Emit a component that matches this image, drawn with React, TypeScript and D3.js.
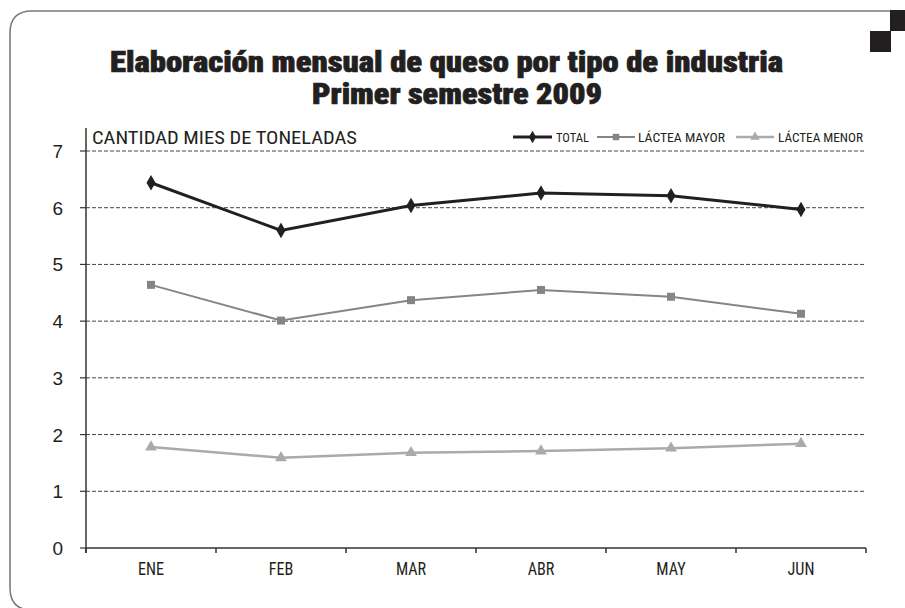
import React from "react";
import * as d3 from "d3";

const months = ["ENE", "FEB", "MAR", "ABR", "MAY", "JUN"];
const total = [6.44, 5.6, 6.04, 6.26, 6.21, 5.97];
const mayor = [4.64, 4.01, 4.37, 4.55, 4.43, 4.13];
const menor = [1.78, 1.59, 1.68, 1.71, 1.76, 1.84];
const yTicks = [0, 1, 2, 3, 4, 5, 6, 7];

const condensed = "'Liberation Sans Narrow', 'Roboto Condensed', Roboto, 'Liberation Sans', sans-serif";

const App = () => {
  const x = d3.scaleBand<string>().domain(months).range([86, 866]).paddingInner(0).paddingOuter(0);
  const y = d3.scaleLinear().domain([0, 7]).range([548, 151]);
  const cx = (m: string) => (x(m) as number) + x.bandwidth() / 2;

  const line = d3.line<number>()
    .x((d, i) => cx(months[i]))
    .y(d => y(d));

  const diamond = d3.symbol().type(d3.symbolDiamond).size(70)();
  const square = d3.symbol().type(d3.symbolSquare).size(64)();
  const triangle = d3.symbol().type(d3.symbolTriangle).size(60)();

  const series = [
    { name: "TOTAL", data: total, color: "#231f20", width: 3, marker: diamond },
    { name: "LÁCTEA MAYOR", data: mayor, color: "#858585", width: 2, marker: square },
    { name: "LÁCTEA MENOR", data: menor, color: "#aaaaaa", width: 2.5, marker: triangle },
  ];

  const legend = [
    { x0: 513, x1: 552, tx: 556, tw: 33 },
    { x0: 597, x1: 635, tx: 638, tw: 87 },
    { x0: 736, x1: 774, tx: 778, tw: 85 },
  ];

  return (
    <svg width={905} height={608} style={{ position: "fixed", top: 0, left: 0, background: "#fff" }}>
      {/* frame */}
      <path d="M890,11 L32,11 Q10,11 10,33 L10,588 Q10,610 32,610 L890,610" fill="none" stroke="#7a7a7a" strokeWidth={1.6} />
      <rect x={890} y={10} width={15} height={21} fill="#231f20" />
      <rect x={870} y={31} width={21} height={21} fill="#231f20" />

      {/* title */}
      <text x={110} y={72} fontFamily={condensed} fontWeight={900} fontSize={30}
        fill="#231f20" stroke="#231f20" strokeWidth={0.7} textLength={673} lengthAdjust="spacingAndGlyphs">
        Elaboración mensual de queso por tipo de industria
      </text>
      <text x={312} y={104} fontFamily={condensed} fontWeight={900} fontSize={30}
        fill="#231f20" stroke="#231f20" strokeWidth={0.7} textLength={290} lengthAdjust="spacingAndGlyphs">
        Primer semestre 2009
      </text>

      <text x={92} y={144} fontFamily={condensed} fontSize={18} fill="#231f20"
        textLength={265} lengthAdjust="spacingAndGlyphs">CANTIDAD MIES DE TONELADAS</text>

      {/* grid */}
      {yTicks.filter(t => t > 0).map(t => (
        <line key={t} x1={86} x2={866} y1={y(t)} y2={y(t)} stroke="#444" strokeWidth={1} strokeDasharray="4,2" />
      ))}
      {yTicks.map(t => (
        <g key={"t" + t}>
          <line x1={80} x2={86} y1={y(t)} y2={y(t)} stroke="#333" strokeWidth={1.2} />
          <text x={63} y={y(t) + 7} textAnchor="end" fontFamily="'Liberation Sans', Arial, sans-serif" fontSize={19} fill="#231f20">{t}</text>
        </g>
      ))}

      {/* axes */}
      <line x1={86} x2={86} y1={128} y2={553} stroke="#333" strokeWidth={1.5} />
      <line x1={86} x2={866} y1={548} y2={548} stroke="#333" strokeWidth={1.5} />
      {months.concat([""]).map((m, i) => {
        const xx = 86 + i * x.bandwidth();
        return <line key={"xt" + i} x1={xx} x2={xx} y1={548} y2={553} stroke="#333" strokeWidth={1.5} />;
      })}
      {months.map(m => (
        <text key={m} transform={`translate(${cx(m)},575) scale(0.85,1)`} textAnchor="middle"
          fontFamily={condensed} fontSize={19} fill="#231f20">{m}</text>
      ))}

      {/* series */}
      {series.map(s => (
        <g key={s.name}>
          <path d={line(s.data) as string} fill="none" stroke={s.color} strokeWidth={s.width} />
          {s.data.map((v, i) => (
            <path key={i} d={s.marker as string} transform={`translate(${cx(months[i])},${y(v)})`} fill={s.color} />
          ))}
        </g>
      ))}

      {/* legend */}
      {series.map((s, i) => {
        const l = legend[i];
        return (
          <g key={"lg" + s.name}>
            <line x1={l.x0} x2={l.x1} y1={137} y2={137} stroke={s.color} strokeWidth={s.width} />
            <path d={s.marker as string} transform={`translate(${(l.x0 + l.x1) / 2},137) scale(0.8)`} fill={s.color} />
            <text x={l.tx} y={142} fontFamily={condensed} fontSize={13} fill="#231f20"
              textLength={l.tw} lengthAdjust="spacingAndGlyphs">{s.name}</text>
          </g>
        );
      })}
    </svg>
  );
};

export default App;
